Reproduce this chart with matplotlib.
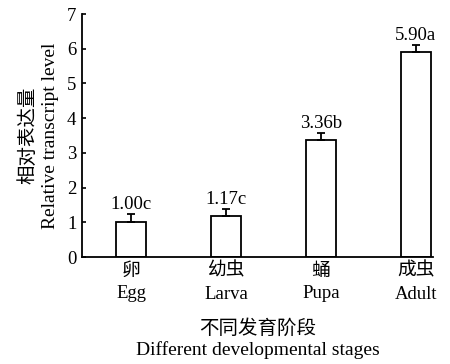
import matplotlib
matplotlib.use('Agg')
import matplotlib.pyplot as plt

# Data
stages_cn = ['卵', '幼虫', '蛹', '成虫']
stages_en = ['Egg', 'Larva', 'Pupa', 'Adult']
values = [1.00, 1.17, 3.36, 5.90]
errors = [0.23, 0.21, 0.21, 0.21]
letters = ['c', 'c', 'b', 'a']

plt.rcParams['font.family'] = ['Liberation Serif', 'Noto Sans CJK SC']
plt.rcParams['font.size'] = 13.5

fig = plt.figure(figsize=(4.5, 3.64), dpi=100)
ax = fig.add_axes([82 / 450, 1 - 257 / 364, (433 - 82) / 450, (257 - 14) / 364])

x = list(range(len(values)))
ax.bar(x, values, width=0.32, color='white', edgecolor='black', linewidth=1.3,
       yerr=[[0] * len(errors), errors], capsize=3,
       error_kw={'elinewidth': 1.3, 'capthick': 1.3, 'ecolor': 'black'})

# Value labels above error bars
for xi, v, e, l in zip(x, values, errors, letters):
    ax.text(xi, v + e + 0.03, f'{v:.2f}{l}', ha='center', va='bottom', fontsize=13.5)

ax.set_xlim(-0.516, 3.18)
ax.set_ylim(0, 7)
ax.set_yticks(range(8))
ax.set_xticks(x)
ax.set_xticklabels([f'{c}\n{e}' for c, e in zip(stages_cn, stages_en)], linespacing=1.45)
ax.tick_params(axis='y', direction='in', length=3, width=1.2, pad=4)
ax.tick_params(axis='x', length=0, pad=4)

for s in ['top', 'right']:
    ax.spines[s].set_visible(False)
for s in ['left', 'bottom']:
    ax.spines[s].set_linewidth(1.3)

ax.set_ylabel('相对表达量\nRelative transcript level', fontsize=14, linespacing=1.3, labelpad=6)
ax.set_xlabel('不同发育阶段\nDifferent developmental stages', fontsize=14, linespacing=1.2, labelpad=12)

fig.savefig('out.png', dpi=100)
